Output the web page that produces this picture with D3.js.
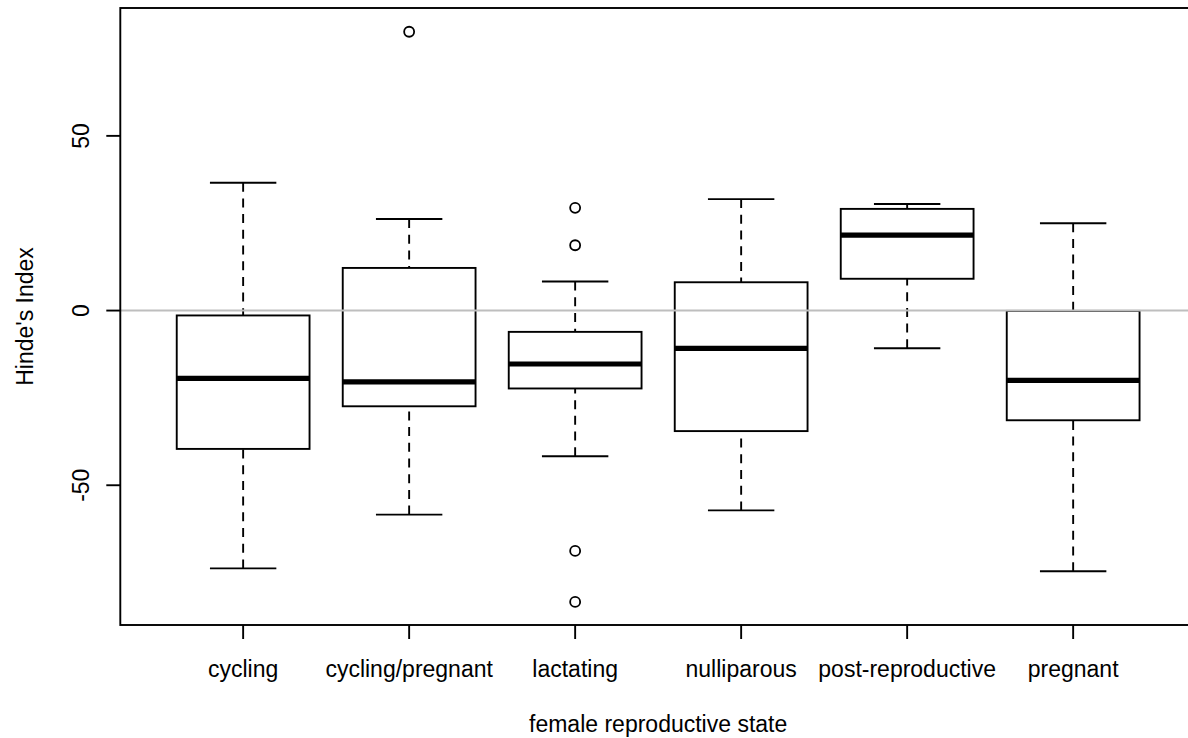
<!DOCTYPE html>
<html>
<head>
<meta charset="utf-8">
<script src="https://cdn.jsdelivr.net/npm/d3@7"></script>
<style>
  html, body { margin: 0; padding: 0; background: #fff; }
  svg { display: block; }
  text { font-family: "Liberation Sans", Arial, sans-serif; fill: #000; }
</style>
</head>
<body>
<svg id="chart" width="1188" height="738"></svg>
<script>
// Female reproductive states (groups on the x axis)
const categories = ["cycling", "cycling/pregnant", "lactating", "nulliparous", "post-reproductive", "pregnant"];

// Five-number summaries per group: lower whisker, Q1, median, Q3, upper whisker
const lowerWhisker = [-73.8, -58.4, -41.7, -57.2, -10.8, -74.6];
const lowerQuartile = [-39.6, -27.4, -22.3, -34.5,   9.1, -31.4];
const medians       = [-19.4, -20.4, -15.3, -10.8,  21.6, -20.0];
const upperQuartile = [ -1.4,  12.2,  -6.1,   8.1,  29.1,  -0.1];
const upperWhisker  = [ 36.6,  26.2,   8.3,  31.9,  30.5,  25.0];

// Points beyond the whiskers, per group
const outliers = [[], [79.8], [29.4, 18.7, -68.8, -83.4], [], [], []];

const yTicks = [-50, 0, 50];

(function () {
  const svg = d3.select("#chart");
  const plotLeft = 120.3, plotRight = 1196, plotTop = 8, plotBottom = 625;

  // Group positions 1..n with R-style padding
  const x = d3.scaleLinear().domain([0.26, categories.length + 0.74]).range([plotLeft, plotRight]);
  const y = d3.scaleLinear().domain([-90, 86.6]).range([plotBottom, plotTop]);
  const unit = x(2) - x(1);
  const boxHalf = unit * 0.4;
  const capHalf = unit * 0.2;

  const groups = categories.map((c, i) => ({
    name: c, pos: i + 1,
    lo: lowerWhisker[i], q1: lowerQuartile[i], med: medians[i],
    q3: upperQuartile[i], hi: upperWhisker[i], out: outliers[i]
  }));

  const g = svg.append("g");
  const lw = 1.9;

  // Whiskers (dashed), drawn from the extremes toward the box
  g.selectAll("line.wlo").data(groups).join("line")
    .attr("x1", d => x(d.pos)).attr("x2", d => x(d.pos))
    .attr("y1", d => y(d.lo)).attr("y2", d => y(d.q1))
    .attr("stroke", "#000").attr("stroke-width", lw).attr("stroke-dasharray", "9,6.7");
  g.selectAll("line.whi").data(groups).join("line")
    .attr("x1", d => x(d.pos)).attr("x2", d => x(d.pos))
    .attr("y1", d => y(d.hi)).attr("y2", d => y(d.q3))
    .attr("stroke", "#000").attr("stroke-width", lw).attr("stroke-dasharray", "9,6.7");

  // Whisker caps
  ["lo", "hi"].forEach(k => {
    g.append("g").selectAll("line").data(groups).join("line")
      .attr("x1", d => x(d.pos) - capHalf).attr("x2", d => x(d.pos) + capHalf)
      .attr("y1", d => y(d[k])).attr("y2", d => y(d[k]))
      .attr("stroke", "#000").attr("stroke-width", lw);
  });

  // Boxes
  g.append("g").selectAll("rect").data(groups).join("rect")
    .attr("x", d => x(d.pos) - boxHalf).attr("width", boxHalf * 2)
    .attr("y", d => y(d.q3)).attr("height", d => y(d.q1) - y(d.q3))
    .attr("fill", "#fff").attr("stroke", "#000").attr("stroke-width", lw);

  // Medians
  g.append("g").selectAll("line").data(groups).join("line")
    .attr("x1", d => x(d.pos) - boxHalf).attr("x2", d => x(d.pos) + boxHalf)
    .attr("y1", d => y(d.med)).attr("y2", d => y(d.med))
    .attr("stroke", "#000").attr("stroke-width", 5.2);

  // Outlying points
  const outPts = groups.flatMap(d => d.out.map(v => ({ pos: d.pos, v })));
  g.append("g").selectAll("circle").data(outPts).join("circle")
    .attr("cx", d => x(d.pos)).attr("cy", d => y(d.v)).attr("r", 5)
    .attr("fill", "none").attr("stroke", "#000").attr("stroke-width", 1.8);

  // Reference line at zero
  svg.append("line")
    .attr("x1", plotLeft).attr("x2", plotRight).attr("y1", y(0)).attr("y2", y(0))
    .attr("stroke", "#bebebe").attr("stroke-width", 1.9);

  // Plot frame
  svg.append("rect")
    .attr("x", plotLeft).attr("y", plotTop)
    .attr("width", plotRight - plotLeft).attr("height", plotBottom - plotTop)
    .attr("fill", "none").attr("stroke", "#000").attr("stroke-width", lw);

  // Y axis
  const yAxis = svg.append("g");
  yAxis.selectAll("line").data(yTicks).join("line")
    .attr("x1", plotLeft - 14).attr("x2", plotLeft).attr("y1", d => y(d)).attr("y2", d => y(d))
    .attr("stroke", "#000").attr("stroke-width", lw);
  yAxis.selectAll("text").data(yTicks).join("text")
    .attr("transform", d => `translate(89,${y(d)}) rotate(-90)`)
    .attr("text-anchor", "middle").style("font-size", "23px")
    .text(d => d);

  // X axis
  const xAxis = svg.append("g");
  xAxis.selectAll("line").data(groups).join("line")
    .attr("x1", d => x(d.pos)).attr("x2", d => x(d.pos))
    .attr("y1", plotBottom).attr("y2", plotBottom + 14)
    .attr("stroke", "#000").attr("stroke-width", lw);
  xAxis.selectAll("text").data(groups).join("text")
    .attr("x", d => x(d.pos)).attr("y", 677)
    .attr("text-anchor", "middle").style("font-size", "23px")
    .text(d => d.name);

  // Axis titles
  svg.append("text")
    .attr("x", (plotLeft + plotRight) / 2).attr("y", 732)
    .attr("text-anchor", "middle").style("font-size", "23px")
    .text("female reproductive state");
  svg.append("text")
    .attr("transform", `translate(33,${(plotTop + plotBottom) / 2}) rotate(-90)`)
    .attr("text-anchor", "middle").style("font-size", "23px")
    .text("Hinde's Index");
})();
</script>
</body>
</html>
